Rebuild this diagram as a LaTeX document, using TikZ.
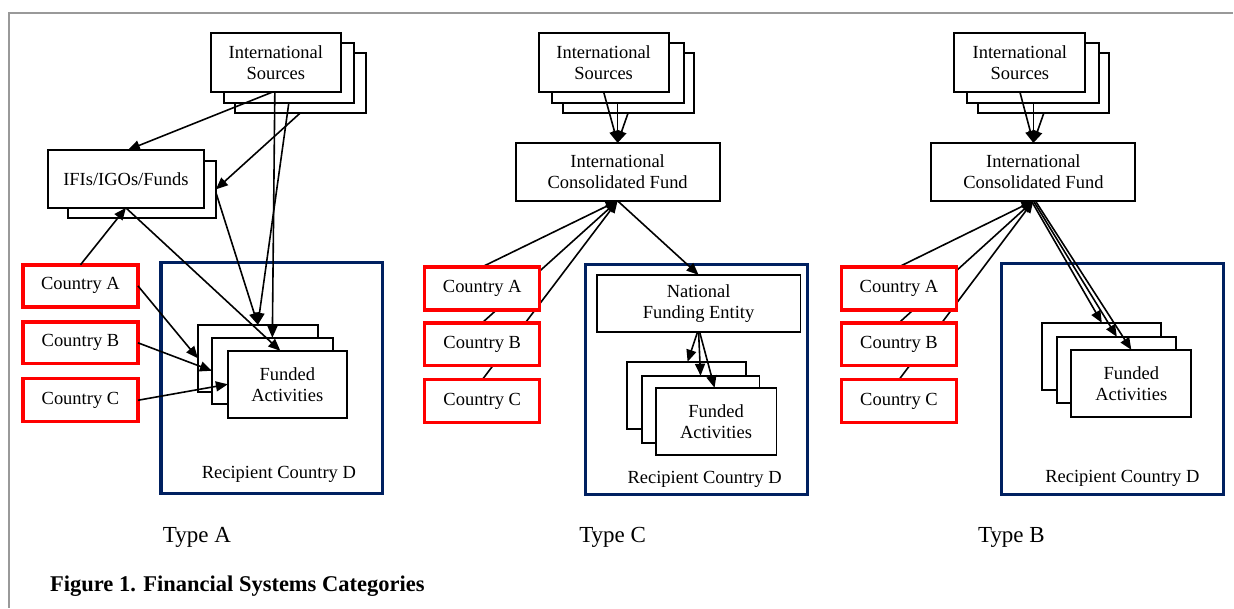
\documentclass[tikz,border=0pt]{standalone}
\usepackage{fontspec}
\setmainfont{Liberation Serif}
\usetikzlibrary{arrows.meta}
\pgfdeclarelayer{paper}
\pgfdeclarelayer{under}
\pgfsetlayers{paper,under,main}
\definecolor{navy}{RGB}{0,32,96}
\newcommand\fsbox{\fontsize{18.5}{21}\selectfont}
\newcommand\bx[7]{\node[#6, minimum width={#4-#2}, minimum height={#5-#3}] (#1) at ({(#2+#4)/2},{(#3+#5)/2}) {#7};}
\begin{document}
\begin{tikzpicture}[x=1pt,y=-1pt,
  box/.style={draw=black, line width=1.9pt, fill=white, inner sep=0pt, outer sep=0pt, align=center, font=\fsbox},
  cty/.style={box, draw=red, line width=3.4pt},
  rec/.style={draw=navy, line width=3.2pt, inner sep=0pt, outer sep=0pt},
  arr/.style={-{Triangle[length=12pt,width=10pt]}, line width=1.6pt},
  lbl/.style={font=\fsbox, anchor=base, inner sep=0pt},
  typ/.style={font=\fontsize{23}{27}\selectfont, anchor=base, inner sep=0pt},
  ttl/.style={font=\fontsize{22.5}{27}\selectfont\bfseries, anchor=base west, inner sep=0pt}]
\begin{pgfonlayer}{paper}
\fill[white] (0,0) rectangle (1234,608);
\draw[gray!80, line width=1.5pt] (9,608) -- (9,13) -- (1234,13);
\end{pgfonlayer}
\useasboundingbox (0,0) rectangle (1234,608);

% ---------- Type A ----------
\bx{rA}{161}{263}{383}{494}{rec}{}
\bx{sAc}{235}{53}{366}{113}{box}{}
\bx{sAb}{224}{43}{354}{103}{box}{}
\bx{sAa}{211}{33}{341}{92}{box}{International\\Sources}
\bx{iAb}{68}{161}{216}{218}{box}{}
\bx{iAa}{48}{150}{204}{208}{box}{IFIs/IGOs/Funds}
\bx{fA1}{198}{325}{318}{392}{box}{}
\bx{fA2}{212}{338}{333}{404}{box}{}
\bx{fA3}{228}{351}{347}{418}{box}{Funded\\Activities}
\bx{cAA}{23}{265}{138}{307}{cty}{Country A}
\bx{cAB}{23}{322}{138}{364}{cty}{Country B}
\bx{cAC}{23}{379}{138}{422}{cty}{Country C}
\node[lbl] (lA) at (279,479) {Recipient Country D};
\node[typ] (tA) at (197,543) {Type A};

% ---------- Type C ----------
\bx{rC}{586}{265}{808}{495}{rec}{}
\bx{sCc}{563}{53}{694}{113}{box}{}
\bx{sCb}{552}{43}{684}{103}{box}{}
\bx{sCa}{539}{33}{669}{92}{box}{International\\Sources}
\bx{iC}{516}{143}{720}{201}{box}{International\\Consolidated Fund}
\bx{nC}{597}{275}{801}{332}{box}{National\\Funding Entity}
\bx{fC1}{627}{362}{746}{429}{box}{}
\bx{fC2}{642}{376}{760}{443}{box}{}
\bx{fC3}{656}{388}{777}{455}{box}{Funded\\Activities}
\bx{cCA}{425}{267}{540}{310}{cty}{Country A}
\bx{cCB}{425}{323}{540}{366}{cty}{Country B}
\bx{cCC}{425}{380}{540}{423}{cty}{Country C}
\node[lbl] (lC) at (705,484) {Recipient Country D};
\node[typ] (tC) at (613,543) {Type C};

% ---------- Type B ----------
\bx{rB}{1002}{264}{1224}{495}{rec}{}
\bx{sBc}{979}{53}{1110}{113}{box}{}
\bx{sBb}{968}{43}{1100}{103}{box}{}
\bx{sBa}{955}{33}{1086}{92}{box}{International\\Sources}
\bx{iB}{932}{143}{1136}{201}{box}{International\\Consolidated Fund}
\bx{fB1}{1043}{323}{1162}{390}{box}{}
\bx{fB2}{1058}{337}{1177}{403}{box}{}
\bx{fB3}{1072}{350}{1192}{417}{box}{Funded\\Activities}
\bx{cBA}{842}{267}{957}{310}{cty}{Country A}
\bx{cBB}{842}{323}{957}{366}{cty}{Country B}
\bx{cBC}{842}{380}{957}{423}{cty}{Country C}
\node[lbl] (lB) at (1123,483) {Recipient Country D};
\node[typ] (tB) at (1012,543) {Type B};

\node[ttl] (title) at (50,592) {Figure 1. Financial Systems Categories};

% ---------- arrows A ----------
\draw[arr] ([xshift=-3pt]sAa.south) -- ([xshift=2pt]iAa.north);
\draw[arr] (sAc.south) -- (iAb.east);
\draw[arr] ([xshift=-1pt]sAa.south) -- (fA2.north);
\draw[arr] (sAb.south) -- (fA1.north);
\draw[arr] ([yshift=-3pt]iAb.east) -- (fA1.north);
\draw[arr] (iAa.south) -- ([xshift=-7pt]fA3.north);
\draw[arr] (cAA.north) -- (iAa.south);
\draw[arr] (cAA.east) -- (fA1.west);
\draw[arr] (cAB.east) -- (fA2.west);
\draw[arr] (cAC.east) -- (fA3.west);

% ---------- arrows C ----------
\draw[arr] (sCa.south) -- (iC.north);
\draw[arr] (sCb.south) -- (iC.north);
\draw[arr] (sCc.south) -- (iC.north);
\draw[arr] (iC.south) -- (nC.north);
\draw[arr] ([xshift=-1pt]nC.south) -- ([xshift=1.5pt]fC1.north);
\draw[arr] (nC.south) -- (fC2.north);
\draw[arr] ([xshift=1pt]nC.south) -- ([xshift=-1.5pt]fC3.north);

% ---------- arrows B ----------
\draw[arr] (sBa.south) -- (iB.north);
\draw[arr] (sBb.south) -- (iB.north);
\draw[arr] (sBc.south) -- (iB.north);
\draw[arr] ([xshift=-2pt]iB.south) -- (fB1.north);
\draw[arr] (iB.south) -- (fB2.north);
\draw[arr] ([xshift=2pt]iB.south) -- (fB3.north);

% ---------- country lines that pass behind the country boxes ----------
\begin{pgfonlayer}{under}
\draw[arr] (cCA.north) -- (iC.south);
\draw[arr] (cCB.north) -- (iC.south);
\draw[arr] (cCC.north) -- (iC.south);
\draw[arr] (cBA.north) -- (iB.south);
\draw[arr] (cBB.north) -- (iB.south);
\draw[arr] (cBC.north) -- (iB.south);
\end{pgfonlayer}
\end{tikzpicture}
\end{document}
